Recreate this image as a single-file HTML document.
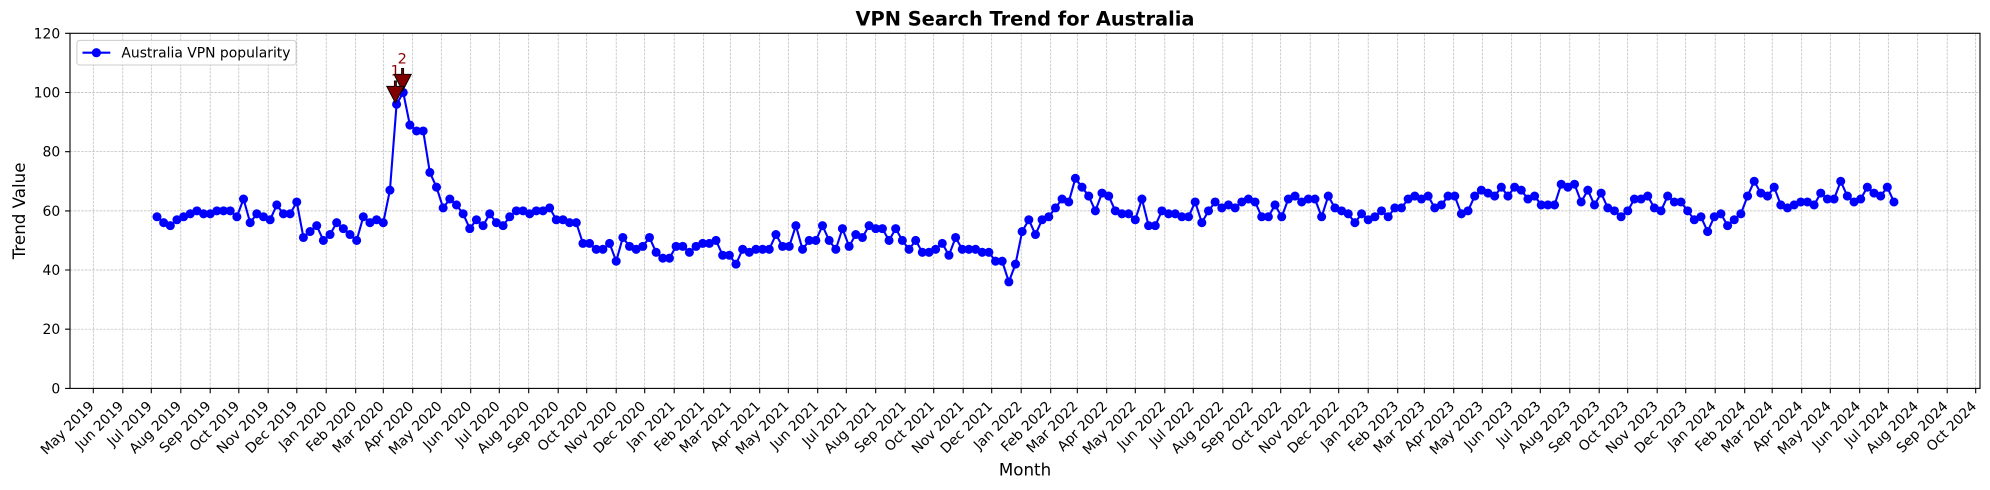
<!DOCTYPE html>
<html><head><meta charset="utf-8"><style>
html,body{margin:0;padding:0;background:#fff;}
svg{display:block;font-family:"DejaVu Sans","Liberation Sans",sans-serif;}
</style></head><body>
<svg width="1990" height="490" viewBox="0 0 1990 490" xmlns="http://www.w3.org/2000/svg">
<defs>
<marker id="dot" markerUnits="userSpaceOnUse" markerWidth="3" markerHeight="3" refX="0" refY="0" style="overflow:visible"><ellipse cx="0" cy="0" rx="0.68" ry="1.53" fill="#0000ff"/></marker>
</defs>
<rect x="0" y="0" width="1990" height="490" fill="#fff"/>
<!-- grid -->
<g stroke="#b8b8b8" stroke-width="0.7" stroke-dasharray="2.6 1.1" fill="none">
<path d="M93.3 388.4V33.3M122.8 388.4V33.3M151.3 388.4V33.3M180.8 388.4V33.3M210.2 388.4V33.3M238.8 388.4V33.3M268.2 388.4V33.3M296.8 388.4V33.3M326.2 388.4V33.3M355.7 388.4V33.3M383.3 388.4V33.3M412.7 388.4V33.3M441.3 388.4V33.3M470.7 388.4V33.3M499.3 388.4V33.3M528.7 388.4V33.3M558.2 388.4V33.3M586.7 388.4V33.3M616.2 388.4V33.3M644.7 388.4V33.3M674.2 388.4V33.3M703.7 388.4V33.3M730.3 388.4V33.3M759.7 388.4V33.3M788.3 388.4V33.3M817.7 388.4V33.3M846.3 388.4V33.3M875.7 388.4V33.3M905.2 388.4V33.3M933.7 388.4V33.3M963.2 388.4V33.3M991.7 388.4V33.3M1021.2 388.4V33.3M1050.7 388.4V33.3M1077.3 388.4V33.3M1106.7 388.4V33.3M1135.3 388.4V33.3M1164.8 388.4V33.3M1193.3 388.4V33.3M1222.8 388.4V33.3M1252.2 388.4V33.3M1280.7 388.4V33.3M1310.2 388.4V33.3M1338.7 388.4V33.3M1368.2 388.4V33.3M1397.7 388.4V33.3M1424.3 388.4V33.3M1453.7 388.4V33.3M1482.3 388.4V33.3M1511.7 388.4V33.3M1540.3 388.4V33.3M1569.8 388.4V33.3M1599.2 388.4V33.3M1627.7 388.4V33.3M1657.2 388.4V33.3M1685.7 388.4V33.3M1715.2 388.4V33.3M1744.7 388.4V33.3M1772.2 388.4V33.3M1801.7 388.4V33.3M1830.3 388.4V33.3M1859.7 388.4V33.3M1888.3 388.4V33.3M1917.7 388.4V33.3M1947.2 388.4V33.3M1975.7 388.4V33.3"/>
<path d="M70 329.2H1980M70 270.0H1980M70 210.9H1980M70 151.7H1980M70 92.5H1980"/>
</g>
<!-- data -->
<g transform="matrix(6.655,0,0,-2.959,157.0,388.4)">
<polyline fill="none" stroke="#0000ff" stroke-width="2.1" stroke-linejoin="round" vector-effect="non-scaling-stroke" points="0,58 1,56 2,55 3,57 4,58 5,59 6,60 7,59 8,59 9,60 10,60 11,60 12,58 13,64 14,56 15,59 16,58 17,57 18,62 19,59 20,59 21,63 22,51 23,53 24,55 25,50 26,52 27,56 28,54 29,52 30,50 31,58 32,56 33,57 34,56 35,67 36,96 37,100 38,89 39,87 40,87 41,73 42,68 43,61 44,64 45,62 46,59 47,54 48,57 49,55 50,59 51,56 52,55 53,58 54,60 55,60 56,59 57,60 58,60 59,61 60,57 61,57 62,56 63,56 64,49 65,49 66,47 67,47 68,49 69,43 70,51 71,48 72,47 73,48 74,51 75,46 76,44 77,44 78,48 79,48 80,46 81,48 82,49 83,49 84,50 85,45 86,45 87,42 88,47 89,46 90,47 91,47 92,47 93,52 94,48 95,48 96,55 97,47 98,50 99,50 100,55 101,50 102,47 103,54 104,48 105,52 106,51 107,55 108,54 109,54 110,50 111,54 112,50 113,47 114,50 115,46 116,46 117,47 118,49 119,45 120,51 121,47 122,47 123,47 124,46 125,46 126,43 127,43 128,36 129,42 130,53 131,57 132,52 133,57 134,58 135,61 136,64 137,63 138,71 139,68 140,65 141,60 142,66 143,65 144,60 145,59 146,59 147,57 148,64 149,55 150,55 151,60 152,59 153,59 154,58 155,58 156,63 157,56 158,60 159,63 160,61 161,62 162,61 163,63 164,64 165,63 166,58 167,58 168,62 169,58 170,64 171,65 172,63 173,64 174,64 175,58 176,65 177,61 178,60 179,59 180,56 181,59 182,57 183,58 184,60 185,58 186,61 187,61 188,64 189,65 190,64 191,65 192,61 193,62 194,65 195,65 196,59 197,60 198,65 199,67 200,66 201,65 202,68 203,65 204,68 205,67 206,64 207,65 208,62 209,62 210,62 211,69 212,68 213,69 214,63 215,67 216,62 217,66 218,61 219,60 220,58 221,60 222,64 223,64 224,65 225,61 226,60 227,65 228,63 229,63 230,60 231,57 232,58 233,53 234,58 235,59 236,55 237,57 238,59 239,65 240,70 241,66 242,65 243,68 244,62 245,61 246,62 247,63 248,63 249,62 250,66 251,64 252,64 253,70 254,65 255,63 256,64 257,68 258,66 259,65 260,68 261,63"/>
<polyline fill="none" stroke="none" marker-start="url(#dot)" marker-mid="url(#dot)" marker-end="url(#dot)" points="0,58 1,56 2,55 3,57 4,58 5,59 6,60 7,59 8,59 9,60 10,60 11,60 12,58 13,64 14,56 15,59 16,58 17,57 18,62 19,59 20,59 21,63 22,51 23,53 24,55 25,50 26,52 27,56 28,54 29,52 30,50 31,58 32,56 33,57 34,56 35,67 36,96 37,100 38,89 39,87 40,87 41,73 42,68 43,61 44,64 45,62 46,59 47,54 48,57 49,55 50,59 51,56 52,55 53,58 54,60 55,60 56,59 57,60 58,60 59,61 60,57 61,57 62,56 63,56 64,49 65,49 66,47 67,47 68,49 69,43 70,51 71,48 72,47 73,48 74,51 75,46 76,44 77,44 78,48 79,48 80,46 81,48 82,49 83,49 84,50 85,45 86,45 87,42 88,47 89,46 90,47 91,47 92,47 93,52 94,48 95,48 96,55 97,47 98,50 99,50 100,55 101,50 102,47 103,54 104,48 105,52 106,51 107,55 108,54 109,54 110,50 111,54 112,50 113,47 114,50 115,46 116,46 117,47 118,49 119,45 120,51 121,47 122,47 123,47 124,46 125,46 126,43 127,43 128,36 129,42 130,53 131,57 132,52 133,57 134,58 135,61 136,64 137,63 138,71 139,68 140,65 141,60 142,66 143,65 144,60 145,59 146,59 147,57 148,64 149,55 150,55 151,60 152,59 153,59 154,58 155,58 156,63 157,56 158,60 159,63 160,61 161,62 162,61 163,63 164,64 165,63 166,58 167,58 168,62 169,58 170,64 171,65 172,63 173,64 174,64 175,58 176,65 177,61 178,60 179,59 180,56 181,59 182,57 183,58 184,60 185,58 186,61 187,61 188,64 189,65 190,64 191,65 192,61 193,62 194,65 195,65 196,59 197,60 198,65 199,67 200,66 201,65 202,68 203,65 204,68 205,67 206,64 207,65 208,62 209,62 210,62 211,69 212,68 213,69 214,63 215,67 216,62 217,66 218,61 219,60 220,58 221,60 222,64 223,64 224,65 225,61 226,60 227,65 228,63 229,63 230,60 231,57 232,58 233,53 234,58 235,59 236,55 237,57 238,59 239,65 240,70 241,66 242,65 243,68 244,62 245,61 246,62 247,63 248,63 249,62 250,66 251,64 252,64 253,70 254,65 255,63 256,64 257,68 258,66 259,65 260,68 261,63"/>
</g>
<!-- annotations -->
<text x="395.3" y="75.7" font-size="14.5" fill="#8b0000" text-anchor="middle">1</text>
<text x="402.3" y="63.7" font-size="14.5" fill="#8b0000" text-anchor="middle">2</text>
<polygon points="401.6,68.5 403.6,68.5 403.6,74.3 411.3,74.3 402.6,91 394,74.3 401.6,74.3" fill="#800000" stroke="#000" stroke-width="0.9" stroke-linejoin="miter"/>
<polygon points="394.4,81 396.4,81 396.4,86.3 404,86.3 395.4,103 386.7,86.3 394.4,86.3" fill="#800000" stroke="#000" stroke-width="0.9" stroke-linejoin="miter"/>
<!-- axes spines -->
<rect x="70" y="33.3" width="1910" height="355.1" fill="none" stroke="#000" stroke-width="1.1"/>
<!-- ticks -->
<g stroke="#000" stroke-width="1.1" fill="none">
<path d="M93.3 388.4v4.9M122.8 388.4v4.9M151.3 388.4v4.9M180.8 388.4v4.9M210.2 388.4v4.9M238.8 388.4v4.9M268.2 388.4v4.9M296.8 388.4v4.9M326.2 388.4v4.9M355.7 388.4v4.9M383.3 388.4v4.9M412.7 388.4v4.9M441.3 388.4v4.9M470.7 388.4v4.9M499.3 388.4v4.9M528.7 388.4v4.9M558.2 388.4v4.9M586.7 388.4v4.9M616.2 388.4v4.9M644.7 388.4v4.9M674.2 388.4v4.9M703.7 388.4v4.9M730.3 388.4v4.9M759.7 388.4v4.9M788.3 388.4v4.9M817.7 388.4v4.9M846.3 388.4v4.9M875.7 388.4v4.9M905.2 388.4v4.9M933.7 388.4v4.9M963.2 388.4v4.9M991.7 388.4v4.9M1021.2 388.4v4.9M1050.7 388.4v4.9M1077.3 388.4v4.9M1106.7 388.4v4.9M1135.3 388.4v4.9M1164.8 388.4v4.9M1193.3 388.4v4.9M1222.8 388.4v4.9M1252.2 388.4v4.9M1280.7 388.4v4.9M1310.2 388.4v4.9M1338.7 388.4v4.9M1368.2 388.4v4.9M1397.7 388.4v4.9M1424.3 388.4v4.9M1453.7 388.4v4.9M1482.3 388.4v4.9M1511.7 388.4v4.9M1540.3 388.4v4.9M1569.8 388.4v4.9M1599.2 388.4v4.9M1627.7 388.4v4.9M1657.2 388.4v4.9M1685.7 388.4v4.9M1715.2 388.4v4.9M1744.7 388.4v4.9M1772.2 388.4v4.9M1801.7 388.4v4.9M1830.3 388.4v4.9M1859.7 388.4v4.9M1888.3 388.4v4.9M1917.7 388.4v4.9M1947.2 388.4v4.9M1975.7 388.4v4.9"/>
<path d="M65.1 388.4H70M65.1 329.2H70M65.1 270.0H70M65.1 210.9H70M65.1 151.7H70M65.1 92.5H70M65.1 33.3H70"/>
</g>
<!-- y tick labels -->
<g font-size="13.9" fill="#000" text-anchor="end">
<text x="60.2" y="393.4">0</text>
<text x="60.2" y="334.2">20</text>
<text x="60.2" y="275.0">40</text>
<text x="60.2" y="215.9">60</text>
<text x="60.2" y="156.7">80</text>
<text x="60.2" y="97.5">100</text>
<text x="60.2" y="38.3">120</text>
</g>
<!-- x tick labels -->
<g font-size="13.9" fill="#000" text-anchor="end" transform="translate(1.5,0)">
<text transform="translate(93.3,407) rotate(-45)">May 2019</text>
<text transform="translate(122.8,407) rotate(-45)">Jun 2019</text>
<text transform="translate(151.3,407) rotate(-45)">Jul 2019</text>
<text transform="translate(180.8,407) rotate(-45)">Aug 2019</text>
<text transform="translate(210.2,407) rotate(-45)">Sep 2019</text>
<text transform="translate(238.8,407) rotate(-45)">Oct 2019</text>
<text transform="translate(268.2,407) rotate(-45)">Nov 2019</text>
<text transform="translate(296.8,407) rotate(-45)">Dec 2019</text>
<text transform="translate(326.2,407) rotate(-45)">Jan 2020</text>
<text transform="translate(355.7,407) rotate(-45)">Feb 2020</text>
<text transform="translate(383.3,407) rotate(-45)">Mar 2020</text>
<text transform="translate(412.7,407) rotate(-45)">Apr 2020</text>
<text transform="translate(441.3,407) rotate(-45)">May 2020</text>
<text transform="translate(470.7,407) rotate(-45)">Jun 2020</text>
<text transform="translate(499.3,407) rotate(-45)">Jul 2020</text>
<text transform="translate(528.7,407) rotate(-45)">Aug 2020</text>
<text transform="translate(558.2,407) rotate(-45)">Sep 2020</text>
<text transform="translate(586.7,407) rotate(-45)">Oct 2020</text>
<text transform="translate(616.2,407) rotate(-45)">Nov 2020</text>
<text transform="translate(644.7,407) rotate(-45)">Dec 2020</text>
<text transform="translate(674.2,407) rotate(-45)">Jan 2021</text>
<text transform="translate(703.7,407) rotate(-45)">Feb 2021</text>
<text transform="translate(730.3,407) rotate(-45)">Mar 2021</text>
<text transform="translate(759.7,407) rotate(-45)">Apr 2021</text>
<text transform="translate(788.3,407) rotate(-45)">May 2021</text>
<text transform="translate(817.7,407) rotate(-45)">Jun 2021</text>
<text transform="translate(846.3,407) rotate(-45)">Jul 2021</text>
<text transform="translate(875.7,407) rotate(-45)">Aug 2021</text>
<text transform="translate(905.2,407) rotate(-45)">Sep 2021</text>
<text transform="translate(933.7,407) rotate(-45)">Oct 2021</text>
<text transform="translate(963.2,407) rotate(-45)">Nov 2021</text>
<text transform="translate(991.7,407) rotate(-45)">Dec 2021</text>
<text transform="translate(1021.2,407) rotate(-45)">Jan 2022</text>
<text transform="translate(1050.7,407) rotate(-45)">Feb 2022</text>
<text transform="translate(1077.3,407) rotate(-45)">Mar 2022</text>
<text transform="translate(1106.7,407) rotate(-45)">Apr 2022</text>
<text transform="translate(1135.3,407) rotate(-45)">May 2022</text>
<text transform="translate(1164.8,407) rotate(-45)">Jun 2022</text>
<text transform="translate(1193.3,407) rotate(-45)">Jul 2022</text>
<text transform="translate(1222.8,407) rotate(-45)">Aug 2022</text>
<text transform="translate(1252.2,407) rotate(-45)">Sep 2022</text>
<text transform="translate(1280.7,407) rotate(-45)">Oct 2022</text>
<text transform="translate(1310.2,407) rotate(-45)">Nov 2022</text>
<text transform="translate(1338.7,407) rotate(-45)">Dec 2022</text>
<text transform="translate(1368.2,407) rotate(-45)">Jan 2023</text>
<text transform="translate(1397.7,407) rotate(-45)">Feb 2023</text>
<text transform="translate(1424.3,407) rotate(-45)">Mar 2023</text>
<text transform="translate(1453.7,407) rotate(-45)">Apr 2023</text>
<text transform="translate(1482.3,407) rotate(-45)">May 2023</text>
<text transform="translate(1511.7,407) rotate(-45)">Jun 2023</text>
<text transform="translate(1540.3,407) rotate(-45)">Jul 2023</text>
<text transform="translate(1569.8,407) rotate(-45)">Aug 2023</text>
<text transform="translate(1599.2,407) rotate(-45)">Sep 2023</text>
<text transform="translate(1627.7,407) rotate(-45)">Oct 2023</text>
<text transform="translate(1657.2,407) rotate(-45)">Nov 2023</text>
<text transform="translate(1685.7,407) rotate(-45)">Dec 2023</text>
<text transform="translate(1715.2,407) rotate(-45)">Jan 2024</text>
<text transform="translate(1744.7,407) rotate(-45)">Feb 2024</text>
<text transform="translate(1772.2,407) rotate(-45)">Mar 2024</text>
<text transform="translate(1801.7,407) rotate(-45)">Apr 2024</text>
<text transform="translate(1830.3,407) rotate(-45)">May 2024</text>
<text transform="translate(1859.7,407) rotate(-45)">Jun 2024</text>
<text transform="translate(1888.3,407) rotate(-45)">Jul 2024</text>
<text transform="translate(1917.7,407) rotate(-45)">Aug 2024</text>
<text transform="translate(1947.2,407) rotate(-45)">Sep 2024</text>
<text transform="translate(1975.7,407) rotate(-45)">Oct 2024</text>
</g>
<!-- labels & title -->
<text x="1025" y="25.3" font-size="19.4" font-weight="bold" text-anchor="middle" fill="#000">VPN Search Trend for Australia</text>
<text x="1025" y="475.7" font-size="16.7" text-anchor="middle" fill="#000">Month</text>
<text transform="translate(25,210.9) rotate(-90)" font-size="16.7" text-anchor="middle" fill="#000">Trend Value</text>
<!-- legend -->
<rect x="76.9" y="40.4" width="219.2" height="24.6" rx="2.8" ry="2.8" fill="#fff" fill-opacity="0.8" stroke="#cccccc" stroke-width="1"/>
<line x1="82.5" y1="52.7" x2="110.3" y2="52.7" stroke="#0000ff" stroke-width="2.1"/>
<circle cx="96.4" cy="52.7" r="4.6" fill="#0000ff"/>
<text x="121.4" y="57.4" font-size="13.9" fill="#000">Australia VPN popularity</text>
</svg>
</body></html>
